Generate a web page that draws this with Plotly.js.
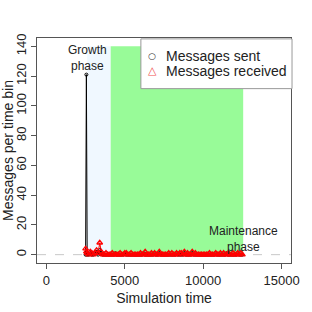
<!DOCTYPE html>
<html><head><meta charset="utf-8">
<script src="https://cdn.plot.ly/plotly-3.0.1.min.js"></script>
<style>html,body{margin:0;padding:0;background:#fff}#c{width:312px;height:312px}</style>
</head><body><div id="c"></div>
<script>
var timeBins = [2500,2550,2600,2700,2800,2900,3000,3100,3200,3300,3400,3500,3600,3700,3800,3900,4000,4100,4200,4300,4400,4500,4600,4700,4800,4900,5000,5100,5200,5300,5400,5500,5600,5700,5800,5900,6000,6100,6200,6300,6400,6500,6600,6700,6800,6900,7000,7100,7200,7300,7400,7500,7600,7700,7800,7900,8000,8100,8200,8300,8400,8500,8600,8700,8800,8900,9000,9100,9200,9300,9400,9500,9600,9700,9800,9900,10000,10100,10200,10300,10400,10500,10600,10700,10800,10900,11000,11100,11200,11300,11400,11500,11600,11700,11800,11900,12000,12100,12200,12300,12400,12500];
var messagesSent = [0,121,0,0,1,0,0,1,2,0,3,1,0,0,0,0,0,0,0,0,1,0,0,0,0,0,1,0,0,0,0,0,0,0,0,0,0,0,1,0,0,0,0,0,0,1,0,0,1,0,0,0,0,0,0,0,0,0,0,1,0,0,0,0,1,0,0,0,0,1,0,0,0,0,0,0,0,0,0,0,0,0,0,0,1,0,0,0,0,0,0,1,0,0,0,0,0,0,1,0,0,0];
var messagesReceived = [4,2,1,0,2,1,0,1,3,1,8,2,0,0,1,0,0,0,1,0,0,0,0,1,0,0,1,1,0,0,1,0,0,0,0,0,1,0,0,2,0,0,0,1,0,1,0,0,2,0,0,0,0,0,1,0,1,0,0,1,0,1,1,0,2,0,1,0,0,2,0,1,0,0,0,0,0,0,0,0,1,0,0,0,1,0,0,1,0,1,0,0,1,0,0,1,0,0,1,0,1,0];
var seriesNames = ["Messages sent", "Messages received"];
var seriesColors = ["black", "red"];
var legendSymbols = ["\u25CB", "\u25B3"];
var phaseNames = ["Growth<br>phase", "Maintenance<br>phase"];
var phaseStart = [2600, 4100];
var phaseEnd = [4100, 12550];
var phaseColors = ["#F0F8FF", "#98FB98"];
var phaseTop = 140;
var labelX = [2600, 12600];
var labelY = [132, 10.8];
var xTicks = [0, 5000, 10000, 15000];
var yTicks = [0, 20, 40, 60, 80, 100, 120, 140];

var font = "Liberation Sans, Arial, sans-serif";
var traces = [
  {x: timeBins, y: messagesSent, mode: "lines", line: {color: seriesColors[0], width: 1}, hoverinfo: "skip"},
  {x: timeBins, y: messagesReceived, mode: "lines", line: {color: seriesColors[1], width: 1}, hoverinfo: "skip"},
  {x: timeBins, y: messagesSent, mode: "markers", name: seriesNames[0],
   marker: {symbol: "circle-open", color: seriesColors[0], size: 3, line: {width: 1, color: seriesColors[0]}}},
  {x: timeBins, y: messagesReceived, mode: "markers", name: seriesNames[1],
   marker: {symbol: "triangle-up-open", color: seriesColors[1], size: 5, line: {width: 1.3, color: seriesColors[1]}}}
];
var shapes = [];
for (var i = 0; i < phaseStart.length; i++) {
  shapes.push({type: "rect", xref: "x", yref: "y", x0: phaseStart[i], x1: phaseEnd[i], y0: 0, y1: phaseTop,
    fillcolor: phaseColors[i], line: {width: 0}, layer: "below"});
}
shapes.push({type: "line", xref: "paper", yref: "y", x0: 0, x1: 1, y0: 0, y1: 0,
  line: {color: "#c8c8c8", width: 1, dash: "dash"}, layer: "below"});
// legend box
shapes.push({type: "rect", xref: "paper", yref: "paper", x0: 0.409, x1: 1.004, y0: 0.775, y1: 0.996,
  fillcolor: "white", line: {color: "#999", width: 1}, layer: "above"});
var annotations = phaseNames.map(function (t, i) {
  return {x: labelX[i], y: labelY[i], xref: "x", yref: "y", text: t, showarrow: false,
    font: {family: font, size: 12, color: "#222"}, xanchor: "center", yanchor: "middle"};
});
var legY = [0.922, 0.855];
for (var k = 0; k < seriesNames.length; k++) {
  annotations.push({xref: "paper", yref: "paper", x: 0.453, y: legY[k], text: legendSymbols[k], showarrow: false,
    font: {family: "DejaVu Sans", size: k === 0 ? 9 : 11, color: k === 0 ? "#333" : "#f05050"}, xanchor: "center", yanchor: "middle"});
  annotations.push({xref: "paper", yref: "paper", x: 0.5, y: legY[k], text: seriesNames[k], showarrow: false,
    font: {family: font, size: 14, color: "#222"}, xanchor: "left", yanchor: "middle"});
}
var layout = {
  width: 312, height: 312,
  margin: {l: 37, r: 21, t: 38, b: 49},
  paper_bgcolor: "white", plot_bgcolor: "white",
  font: {family: font, size: 13, color: "#222"},
  showlegend: false,
  xaxis: {range: [-600, 15600], tickvals: xTicks, ticktext: xTicks.map(String), showgrid: false, zeroline: false,
    showline: true, linecolor: "#555", linewidth: 1, mirror: true, ticks: "outside", ticklen: 5, tickcolor: "#555",
    title: {text: "Simulation time", font: {size: 14}, standoff: 6}, tickfont: {size: 13}},
  yaxis: {range: [-5.6, 145.6], tickvals: yTicks, ticktext: yTicks.map(String), showgrid: false, zeroline: false,
    showline: true, linecolor: "#555", linewidth: 1, mirror: true, ticks: "outside", ticklen: 5, tickcolor: "#555",
    tickangle: -90, title: {text: "Messages per time bin", font: {size: 14}, standoff: 5}, tickfont: {size: 13}},
  shapes: shapes, annotations: annotations
};
Plotly.newPlot("c", traces, layout, {displayModeBar: false, staticPlot: true});
</script></body></html>
